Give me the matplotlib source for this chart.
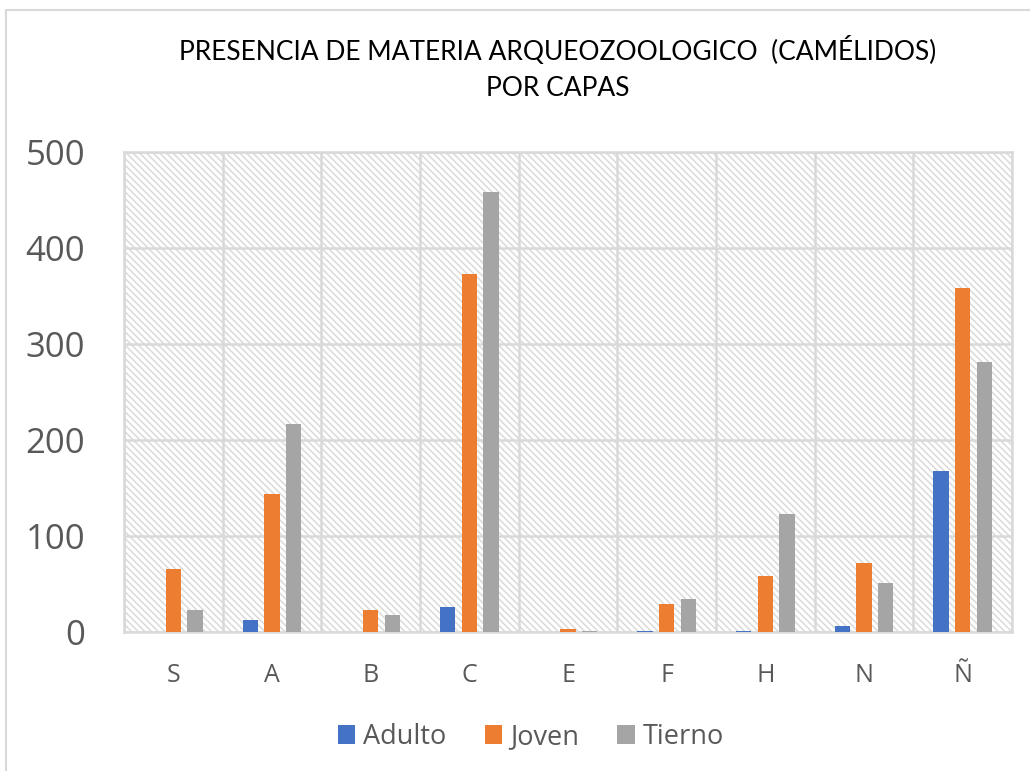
import matplotlib
matplotlib.use("Agg")
import matplotlib.pyplot as plt
import numpy as np
from matplotlib.patches import Rectangle

categories = ["S", "A", "B", "C", "E", "F", "H", "N", "Ñ"]
adulto = [0, 12, 0, 26, 0, 1, 1, 6, 168]
joven = [66, 144, 23, 373, 3, 29, 58, 72, 358]
tierno = [23, 217, 18, 458, 1, 34, 123, 51, 281]
series_names = ["Adulto", "Joven", "Tierno"]
colors = ["#4472C4", "#ED7D31", "#A5A5A5"]
yticks = [0, 100, 200, 300, 400, 500]

plt.rcParams["font.family"] = ["Open Sans", "DejaVu Sans"]
plt.rcParams["hatch.color"] = "#dadada"
plt.rcParams["hatch.linewidth"] = 1.1

fig = plt.figure(figsize=(10.30, 7.71), dpi=100)
ax = fig.add_axes([124 / 1030, 1 - 632 / 771, (1012 - 124) / 1030, (632 - 152) / 771])

# outer chart frame
fig.patches.append(Rectangle((6 / 1030, -0.1), 1.2, 1.1 - 10 / 771, transform=fig.transFigure,
                             fill=False, edgecolor="#d9d9d9", linewidth=1.5))

# hatched plot area
ax.add_patch(Rectangle((0, 0), 1, 1, transform=ax.transAxes, facecolor="white",
                       edgecolor="#dadada", hatch="\\\\\\\\\\", linewidth=0, zorder=0))

x = np.arange(len(categories))
w = 0.155
off = 0.22
for i, (vals, name, c) in enumerate(zip([adulto, joven, tierno], series_names, colors)):
    ax.bar(x + (i - 1) * off, vals, width=w, color=c, label=name, zorder=3)

ax.set_xlim(-0.5, len(categories) - 0.5)
ax.set_ylim(0, 500)
ax.set_yticks(yticks)
ax.set_xticks(x)
ax.set_xticklabels(categories)
ax.set_xticks(np.arange(len(categories) + 1) - 0.5, minor=True)
ax.grid(True, axis="y", color="#d9d9d9", linewidth=1.8, zorder=1)
ax.grid(True, axis="x", which="minor", color="#d9d9d9", linewidth=1.8, zorder=1)
ax.grid(False, axis="x", which="major")
for s in ax.spines.values():
    s.set_color("#d9d9d9")
    s.set_linewidth(1.8)
ax.tick_params(axis="both", which="both", length=0)
ax.tick_params(axis="y", labelsize=25, labelcolor="#595959", pad=28)
ax.tick_params(axis="x", labelsize=18, labelcolor="#595959", pad=22)

title_kw = dict(ha="center", va="center", fontsize=19, color="black", family=["Lato", "DejaVu Sans"])
fig.text(558 / 1030, 1 - 50 / 771, "PRESENCIA DE MATERIA ARQUEOZOOLOGICO  (CAMÉLIDOS)", **title_kw)
fig.text(558 / 1030, 1 - 88 / 771, "POR CAPAS", **title_kw)

leg = fig.legend(loc="center", bbox_to_anchor=(531 / 1030, 1 - 737 / 771), ncol=3, frameon=False,
                 fontsize=19.5, labelcolor="#595959", handlelength=0.65, handleheight=0.65,
                 handletextpad=0.3, columnspacing=1.4)

fig.savefig("out.png", dpi=100)
